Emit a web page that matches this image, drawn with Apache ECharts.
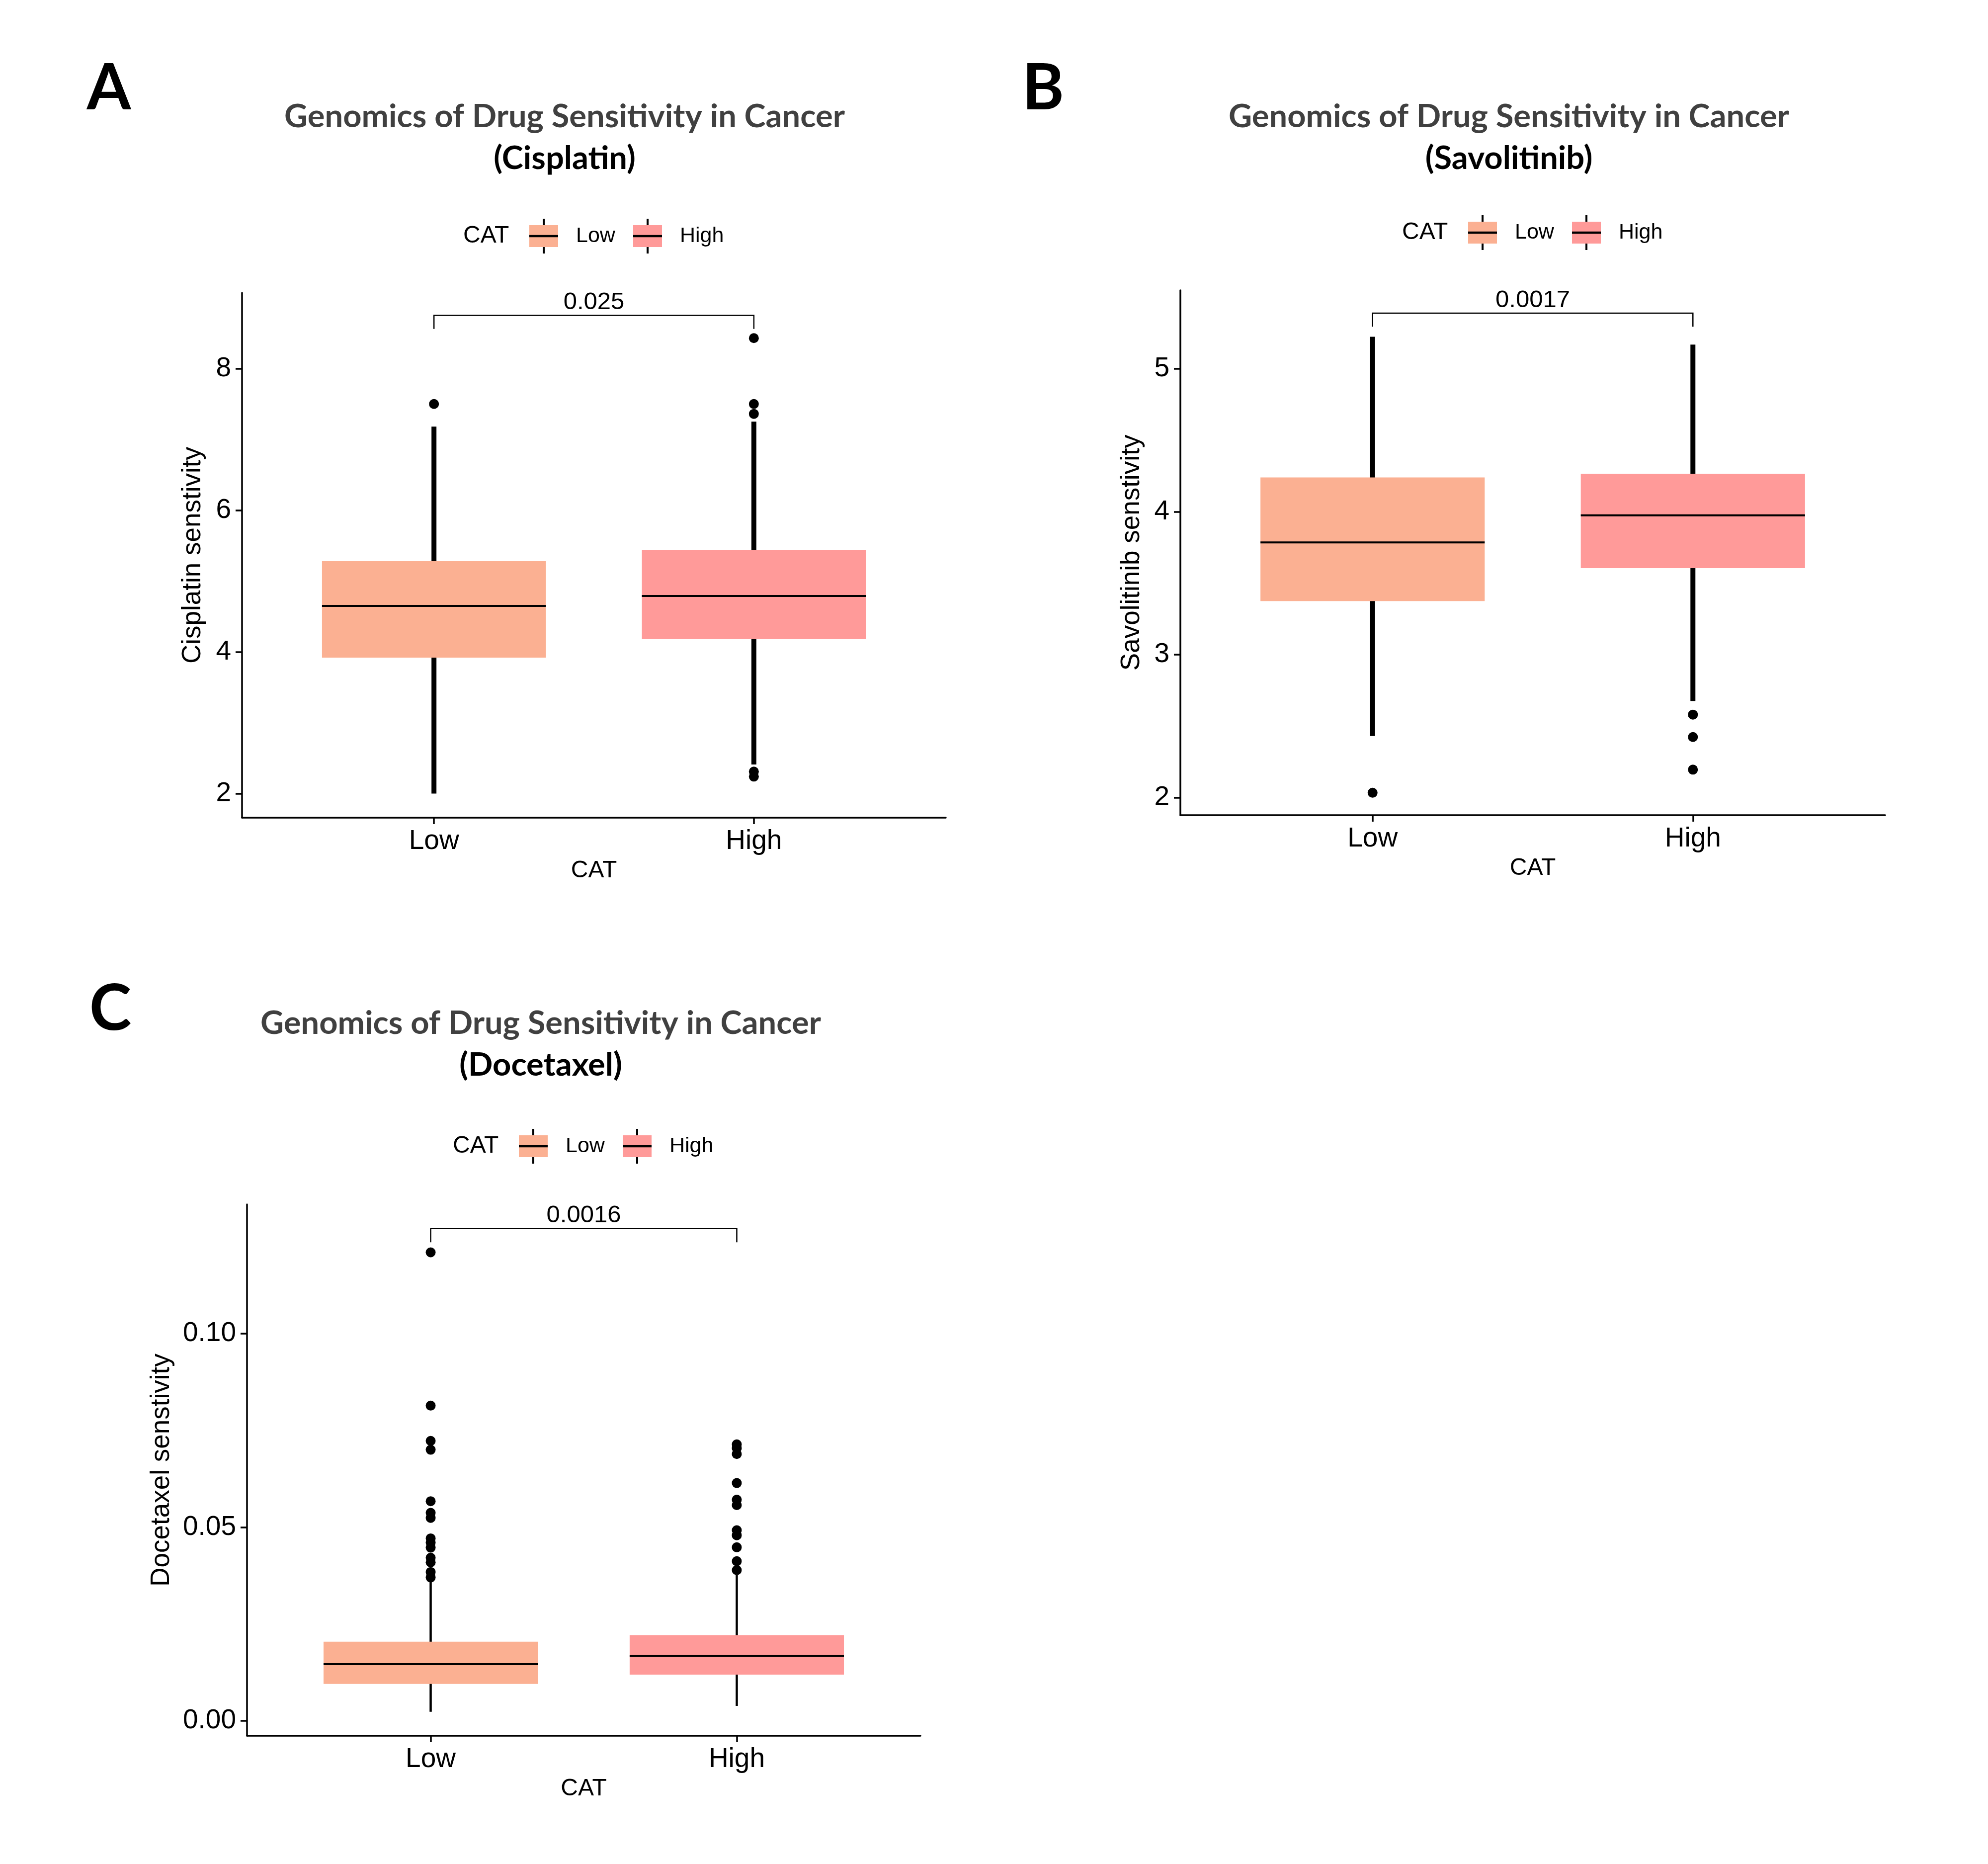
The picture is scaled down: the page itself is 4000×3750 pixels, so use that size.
<!DOCTYPE html>
<html>
<head>
<meta charset="utf-8">
<script src="https://cdn.jsdelivr.net/npm/echarts@6/dist/echarts.min.js"></script>
<style>
  html, body { margin: 0; padding: 0; background: #fff; }
  #chart { width: 4000px; height: 3750px; }
</style>
</head>
<body>
<div id="chart"></div>
<script>
// categories on the x axis
const categories = ['Low', 'High']

// box stats: [lower whisker, Q1, median, Q3, upper whisker]
const cisplatinLow = [2.00, 3.92, 4.65, 5.28, 7.18]
const cisplatinHigh = [2.41, 4.18, 4.79, 5.44, 7.25]
const cisplatinLowOut = [7.50]
const cisplatinHighOut = [8.43, 7.50, 7.36, 2.31, 2.24]

const savolitinibLow = [2.43, 3.375, 3.785, 4.24, 5.225]
const savolitinibHigh = [2.675, 3.605, 3.975, 4.265, 5.17]
const savolitinibLowOut = [2.033]
const savolitinibHighOut = [2.58, 2.423, 2.195]

const docetaxelLow = [0.0023, 0.0095, 0.0146, 0.0204, 0.0363]
const docetaxelHigh = [0.0038, 0.0119, 0.0167, 0.0221, 0.0376]
const docetaxelLowOut = [0.1210, 0.0814, 0.0723, 0.0700, 0.0567, 0.0537, 0.0524,
  0.0471, 0.0460, 0.0447, 0.0421, 0.0409, 0.0384, 0.0370]
const docetaxelHighOut = [0.0714, 0.0704, 0.0689, 0.0614, 0.0571, 0.0557, 0.0492,
  0.0479, 0.0448, 0.0412, 0.0389]

// y tick labels
const cisplatinTicks = [2, 4, 6, 8]
const savolitinibTicks = [2, 3, 4, 5]
const docetaxelTicks = [0, 0.05, 0.10]

// p-value brackets: [bar height, tick end]
const cisplatinBracket = [8.75, 8.56]
const savolitinibBracket = [5.39, 5.295]
const docetaxelBracket = [0.1272, 0.1236]
const pValues = ['0.025', '0.0017', '0.0016']

const boxColors = ['#FBB092', '#FF9A99']
const font = "'Liberation Sans', Arial, sans-serif"
const titleFont = "Lato, 'Noto Sans', sans-serif"
const boxWidth = 0.7

// layout of every panel
const panels = [
  {
    letter: 'A', drug: '(Cisplatin)', yName: 'Cisplatin senstivity',
    boxes: [cisplatinLow, cisplatinHigh], outliers: [cisplatinLowOut, cisplatinHighOut],
    ticks: cisplatinTicks, min: 1.66, max: 9.07, digits: 0,
    bracket: cisplatinBracket, p: pValues[0],
    grid: { left: 487, top: 589, width: 1416, height: 1056 },
    whisker: 10, nameGap: 72,
    titleX: 1136, titleY: 235, legendX: 932, legendY: 475, letterX: 219, letterY: 179,
  },
  {
    letter: 'B', drug: '(Savolitinib)', yName: 'Savolitinib senstivity',
    boxes: [savolitinibLow, savolitinibHigh], outliers: [savolitinibLowOut, savolitinibHighOut],
    ticks: savolitinibTicks, min: 1.876, max: 5.55, digits: 0,
    bracket: savolitinibBracket, p: pValues[1],
    grid: { left: 2375, top: 584, width: 1418, height: 1056 },
    whisker: 10, nameGap: 71,
    titleX: 3036, titleY: 235, legendX: 2821, legendY: 468, letterX: 2099, letterY: 179,
  },
  {
    letter: 'C', drug: '(Docetaxel)', yName: 'Docetaxel senstivity',
    boxes: [docetaxelLow, docetaxelHigh], outliers: [docetaxelLowOut, docetaxelHighOut],
    ticks: docetaxelTicks, min: -0.0039, max: 0.1334, digits: 2,
    bracket: docetaxelBracket, p: pValues[2],
    grid: { left: 497, top: 2423, width: 1355, height: 1069 },
    whisker: 4.5, nameGap: 145,
    titleX: 1088, titleY: 2059, legendX: 911, legendY: 2306, letterX: 222, letterY: 2031,
  },
]

let tickStyle = { color: '#000', width: 3.5 }

let xAxes = panels.map((p, i) => ({
  type: 'value', gridIndex: i, min: 0.4, max: 2.6,
  name: 'CAT', nameLocation: 'middle', nameGap: 83,
  nameTextStyle: { fontSize: 48, color: '#000', fontFamily: font },
  axisLine: { onZero: false, lineStyle: { color: '#000', width: 3.5 } },
  axisTick: { customValues: [1, 2], length: 13, lineStyle: tickStyle },
  axisLabel: {
    customValues: [1, 2], formatter: v => categories[Math.round(v) - 1],
    fontSize: 55, color: '#000', margin: 20, fontFamily: font,
  },
  splitLine: { show: false },
}))

let yAxes = panels.map((p, i) => ({
  type: 'value', gridIndex: i, min: p.min, max: p.max,
  name: p.yName, nameLocation: 'middle', nameGap: p.nameGap,
  nameTextStyle: { fontSize: 53, color: '#000', fontFamily: font },
  axisLine: { onZero: false, lineStyle: { color: '#000', width: 3.5 } },
  axisTick: { customValues: p.ticks, length: 13, lineStyle: tickStyle },
  axisLabel: {
    customValues: p.ticks, formatter: v => v.toFixed(p.digits),
    fontSize: 55, color: '#000', margin: 22, fontFamily: font,
  },
  splitLine: { show: false },
}))

let series = []
panels.forEach((p, i) => {
  // boxes with whiskers
  series.push({
    type: 'custom', xAxisIndex: i, yAxisIndex: i, silent: true, z: 2,
    data: p.boxes.map((b, j) => [j + 1].concat(b)),
    encode: { x: 0, y: [1, 2, 3, 4, 5] },
    renderItem: (params, api) => {
      let x = api.value(0)
      let pt = k => api.coord([x, api.value(k)])
      let lo = pt(1), q1 = pt(2), med = pt(3), q3 = pt(4), hi = pt(5)
      let half = api.size([boxWidth, 0])[0] / 2
      let cx = lo[0]
      return {
        type: 'group',
        children: [
          { type: 'line', shape: { x1: cx, y1: lo[1], x2: cx, y2: hi[1] },
            style: { stroke: '#000', lineWidth: p.whisker } },
          { type: 'rect', shape: { x: cx - half, y: q3[1], width: half * 2, height: q1[1] - q3[1] },
            style: { fill: boxColors[params.dataIndex] } },
          { type: 'line', shape: { x1: cx - half, y1: med[1], x2: cx + half, y2: med[1] },
            style: { stroke: '#000', lineWidth: 4 } },
        ],
      }
    },
  })
  // outliers
  series.push({
    type: 'scatter', xAxisIndex: i, yAxisIndex: i, silent: true, z: 3,
    symbolSize: 20, itemStyle: { color: '#000', opacity: 1 },
    data: p.outliers[0].map(v => [1, v]).concat(p.outliers[1].map(v => [2, v])),
  })
  // significance bracket
  series.push({
    type: 'custom', xAxisIndex: i, yAxisIndex: i, silent: true, z: 4,
    data: [[1, 2, p.bracket[0], p.bracket[1]]],
    encode: { x: [0, 1], y: [2, 3] },
    renderItem: (params, api) => {
      let a = api.coord([api.value(0), api.value(3)])
      let b = api.coord([api.value(0), api.value(2)])
      let c = api.coord([api.value(1), api.value(2)])
      let d = api.coord([api.value(1), api.value(3)])
      return {
        type: 'group',
        children: [
          { type: 'polyline', shape: { points: [a, b, c, d] },
            style: { stroke: '#000', lineWidth: 2.5, fill: null } },
          { type: 'text', x: (b[0] + c[0]) / 2, y: b[1] - 26,
            style: { text: p.p, font: '49px ' + font, fill: '#000', align: 'center', verticalAlign: 'middle' } },
        ],
      }
    },
  })
})

// titles, panel letters and legends
let graphics = []
let legendKey = (x, y, color) => [
  { type: 'line', shape: { x1: x + 29, y1: y - 35, x2: x + 29, y2: y + 35 },
    style: { stroke: '#000', lineWidth: 4 } },
  { type: 'rect', shape: { x: x, y: y - 22, width: 58, height: 44 }, style: { fill: color } },
  { type: 'line', shape: { x1: x, y1: y, x2: x + 58, y2: y }, style: { stroke: '#000', lineWidth: 4.5 } },
]
panels.forEach(p => {
  graphics.push(
    { type: 'text', x: p.letterX, y: p.letterY,
      style: { text: p.letter, font: 'bold 128px ' + titleFont, fill: '#000', align: 'center', verticalAlign: 'middle' } },
    { type: 'text', x: p.titleX, y: p.titleY,
      style: { text: 'Genomics of Drug Sensitivity in Cancer', font: 'bold 65px ' + titleFont,
        fill: '#404040', align: 'center', verticalAlign: 'middle' } },
    { type: 'text', x: p.titleX, y: p.titleY + 84,
      style: { text: p.drug, font: 'bold 65px ' + titleFont, fill: '#000', align: 'center', verticalAlign: 'middle' } },
    { type: 'text', x: p.legendX, y: p.legendY,
      style: { text: 'CAT', font: '48px ' + font, fill: '#000', align: 'left', verticalAlign: 'middle' } },
    ...legendKey(p.legendX + 133, p.legendY, boxColors[0]),
    { type: 'text', x: p.legendX + 227, y: p.legendY,
      style: { text: categories[0], font: '43px ' + font, fill: '#000', align: 'left', verticalAlign: 'middle' } },
    ...legendKey(p.legendX + 342, p.legendY, boxColors[1]),
    { type: 'text', x: p.legendX + 436, y: p.legendY,
      style: { text: categories[1], font: '43px ' + font, fill: '#000', align: 'left', verticalAlign: 'middle' } },
  )
})

let myChart = echarts.init(document.getElementById('chart'))
myChart.setOption({
  backgroundColor: '#fff',
  animation: false,
  grid: panels.map(p => Object.assign({ containLabel: false }, p.grid)),
  xAxis: xAxes,
  yAxis: yAxes,
  series: series,
  graphic: { elements: graphics },
})
</script>
</body>
</html>
